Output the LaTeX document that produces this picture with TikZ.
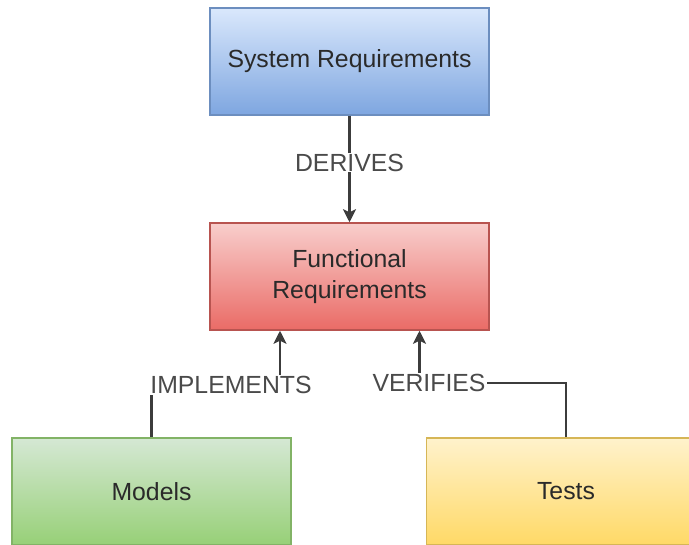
\documentclass[tikz,border=0pt]{standalone}
\usepackage{fontspec}
\setmainfont{Liberation Sans}
\usetikzlibrary{arrows.meta}

\definecolor{blueTop}{HTML}{DAE8FC}
\definecolor{blueBot}{HTML}{7EA6E0}
\definecolor{blueLine}{HTML}{6C8EBF}
\definecolor{redTop}{HTML}{F8CECC}
\definecolor{redBot}{HTML}{EA6B66}
\definecolor{redLine}{HTML}{B85450}
\definecolor{greenTop}{HTML}{D5E8D4}
\definecolor{greenBot}{HTML}{97D077}
\definecolor{greenLine}{HTML}{82B366}
\definecolor{yellowTop}{HTML}{FFF2CC}
\definecolor{yellowBot}{HTML}{FFD966}
\definecolor{yellowLine}{HTML}{D6B656}
\definecolor{ink}{HTML}{2A2A2A}
\definecolor{wire}{HTML}{3C3C3C}

\begin{document}
\begin{tikzpicture}[x=1pt, y=-1pt,
  box/.style={draw, line width=1.5pt, minimum width=279pt, minimum height=107pt,
    inner sep=0pt, align=center, text=ink,
    font=\fontsize{24.8}{31}\selectfont},
  bluebox/.style={box, draw=blueLine, top color=blueTop, bottom color=blueBot},
  redbox/.style={box, draw=redLine, top color=redTop, bottom color=redBot},
  greenbox/.style={box, draw=greenLine, top color=greenTop, bottom color=greenBot},
  yellowbox/.style={box, draw=yellowLine, top color=yellowTop, bottom color=yellowBot},
  conn/.style={draw=wire, line width=2.2pt,
    -{Stealth[length=13pt, width=13pt, inset=3pt]}},
  lbl/.style={fill=white, inner sep=1pt, text=ink!85,
    font=\fontsize{24.8}{28}\selectfont}
]
  % page frame
  \useasboundingbox (0,0) rectangle (689,545);
  \clip (0,0) rectangle (689,545);

  % boxes
  \node[bluebox]   (sys)   at (349.5, 61.5)  {System Requirements};
  \node[redbox]    (func)  at (349.5, 276.5) {Functional\\Requirements};
  \node[greenbox]  (model) at (151.5, 491.5) {Models};
  \node[yellowbox] (tests) at (566, 491.5)   {Tests};

  % derives
  \draw[conn] (sys.south) -- (func.north)
    node[lbl, pos=0.44] (der) {DERIVES};

  % implements
  \draw[conn] (model.north) -- ++(0,-53) -| ([xshift=-69.5pt]func.south);
  \node[lbl] (impl) at (231, 385) {IMPLEMENTS};

  % verifies
  \draw[conn] (tests.north) -- ++(0,-54) -| ([xshift=70pt]func.south);
  \node[lbl] (ver) at (429, 383) {VERIFIES};
\end{tikzpicture}
\end{document}
